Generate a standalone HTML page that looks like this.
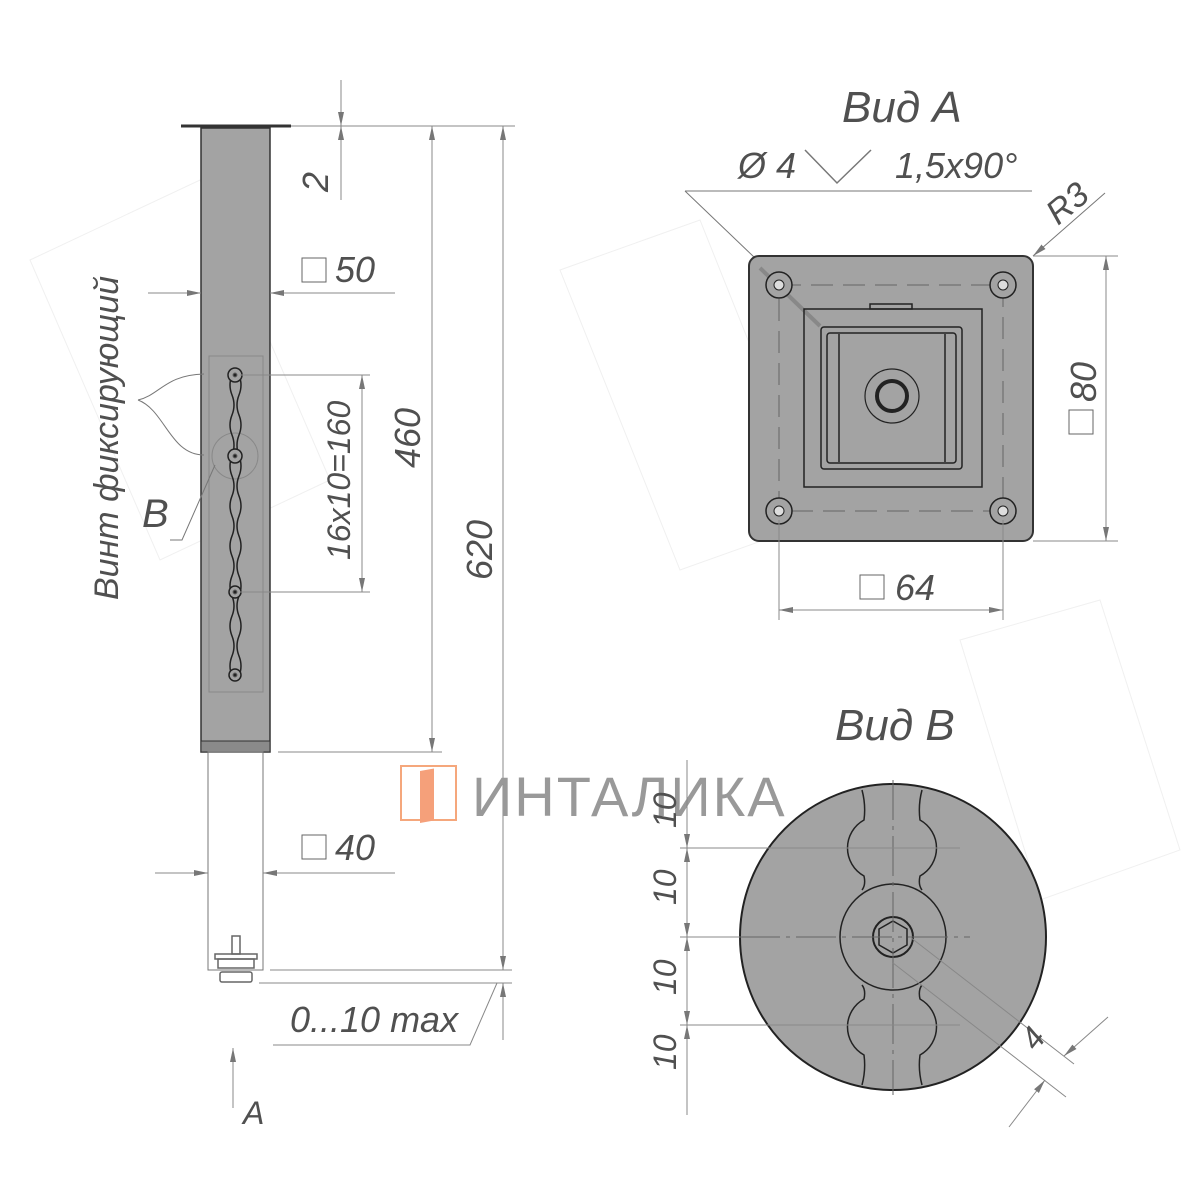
<!DOCTYPE html>
<html><head><meta charset="utf-8"><style>
html,body{margin:0;padding:0;background:#fff}
svg{display:block}
text{font-family:"Liberation Sans","DejaVu Sans",sans-serif;font-style:italic;fill:#505050}
</style></head><body>
<svg width="1200" height="1200" viewBox="0 0 1200 1200" xmlns="http://www.w3.org/2000/svg">
<defs>
<marker id="a" markerWidth="14" markerHeight="8" refX="14" refY="4" orient="auto-start-reverse" markerUnits="userSpaceOnUse"><path d="M0,1 L14,4 L0,7z" fill="#777"/></marker>
</defs>
<g stroke="#f0f0f0" fill="none" stroke-width="1">
<path d="M30,260 L200,180 L330,480 L160,560z M560,270 L700,220 L820,520 L680,570z M960,640 L1100,600 L1180,850 L1040,900z"/>
</g>

<!-- LEFT VIEW -->
<g stroke="#666" stroke-width="1" fill="none">
<rect x="201" y="128" width="69" height="624" fill="#a3a3a3" stroke="#333" stroke-width="1.5"/>
<rect x="201" y="741" width="69" height="11" fill="#8a8a8a" stroke="#333"/>
<line x1="181" y1="126" x2="291" y2="126" stroke="#333" stroke-width="3"/>
<rect x="209" y="356" width="54" height="336" stroke="#888"/>
<circle cx="235" cy="456" r="23" stroke="#888"/>
<path d="M232,375 q-4,10 0,20 q4,10 0,20 q-4,10 0,20 q4,10 0,21 q-4,10 0,20 q4,10 0,20 q-4,10 0,20 q4,10 0,20 q-4,10 0,20 q4,10 0,20 q-4,10 0,20 q4,10 0,20 q-4,10 0,20 q4,10 0,20 q-4,10 0,20" stroke="#222" stroke-width="1.5"/>
<path d="M239,375 q4,10 0,20 q-4,10 0,20 q4,10 0,20 q-4,10 0,21 q4,10 0,20 q-4,10 0,20 q4,10 0,20 q-4,10 0,20 q4,10 0,20 q-4,10 0,20 q4,10 0,20 q-4,10 0,20 q4,10 0,20 q-4,10 0,20 q4,10 0,20" stroke="#222" stroke-width="1.5"/>
<g stroke="#222" stroke-width="1.5" fill="#a3a3a3">
<circle cx="235" cy="375" r="7"/><circle cx="235" cy="456" r="7"/><circle cx="235" cy="592" r="6"/><circle cx="235" cy="675" r="6"/>
</g>
<g fill="#222"><circle cx="235" cy="375" r="2"/><circle cx="235" cy="456" r="2"/><circle cx="235" cy="592" r="2"/><circle cx="235" cy="675" r="2"/></g>
<rect x="208" y="752" width="55" height="218" stroke="#777"/>
<g stroke="#666" stroke-width="1.5"><rect x="232" y="936" width="8" height="18"/><rect x="215" y="954" width="42" height="5"/><rect x="218" y="959" width="36" height="9"/><rect x="220" y="972" width="32" height="10" rx="2"/></g>
<path d="M138,400 C160,395 165,375 204,374 M138,400 C165,410 170,455 204,455 M170,540 L182,540 L215,465" stroke="#777"/>
<line x1="291" y1="126" x2="515" y2="126" stroke="#888"/>
<line x1="341" y1="80" x2="341" y2="126" marker-end="url(#a)" stroke="#888"/>
<line x1="341" y1="200" x2="341" y2="126" marker-end="url(#a)" stroke="#888"/>
<line x1="148" y1="293" x2="201" y2="293" marker-end="url(#a)" stroke="#888"/>
<line x1="395" y1="293" x2="270" y2="293" marker-end="url(#a)" stroke="#888"/>
<line x1="240" y1="375" x2="370" y2="375" stroke="#888"/>
<line x1="240" y1="592" x2="370" y2="592" stroke="#888"/>
<line x1="362" y1="375" x2="362" y2="592" marker-start="url(#a)" marker-end="url(#a)" stroke="#888"/>
<line x1="278" y1="752" x2="442" y2="752" stroke="#888"/>
<line x1="432" y1="126" x2="432" y2="752" marker-start="url(#a)" marker-end="url(#a)" stroke="#888"/>
<line x1="503" y1="126" x2="503" y2="970" marker-start="url(#a)" marker-end="url(#a)" stroke="#888"/>
<line x1="270" y1="970" x2="512" y2="970" stroke="#888"/>
<line x1="259" y1="983" x2="512" y2="983" stroke="#888"/>
<line x1="503" y1="1040" x2="503" y2="983" marker-end="url(#a)" stroke="#888"/>
<path d="M273,1045 L470,1045 L497,983" stroke="#888"/>
<line x1="155" y1="873" x2="208" y2="873" marker-end="url(#a)" stroke="#888"/>
<line x1="395" y1="873" x2="263" y2="873" marker-end="url(#a)" stroke="#888"/>
<line x1="233" y1="1108" x2="233" y2="1048" marker-end="url(#a)" stroke="#888"/>
<rect x="302" y="258" width="24" height="24" stroke="#666"/>
<rect x="302" y="835" width="24" height="24" stroke="#666"/>
</g>
<g font-size="36">
<text x="335" y="282">50</text>
<text x="335" y="860">40</text>
<text transform="translate(328,192) rotate(-90)">2</text>
<text transform="translate(420,468) rotate(-90)">460</text>
<text transform="translate(492,580) rotate(-90)">620</text>
<text transform="translate(350,560) rotate(-90)" font-size="32">16x10=160</text>
<text transform="translate(118,600) rotate(-90)" font-size="34">Винт фиксирующий</text>
<text x="142" y="527" font-size="40">B</text>
<text x="290" y="1032">0...10 max</text>
<text x="243" y="1124" font-size="32">A</text>
</g>

<!-- LOGO -->
<g>
<rect x="401" y="766" width="55" height="54" fill="none" stroke="#f5a77c" stroke-width="2"/>
<rect x="420" y="770" width="14" height="52" fill="#f5a07a" transform="skewY(-10) translate(0,75)"/>
<text x="472" y="816" font-size="56" style="font-style:normal;fill:#999;letter-spacing:2px">ИНТАЛИКА</text>
</g>

<!-- VIEW A -->
<text x="842" y="122" font-size="44">Вид А</text>
<text x="738" y="178" font-size="36">Ø 4</text>
<path d="M805,150 L837,183 L871,150" stroke="#777" fill="none" stroke-width="1.5"/>
<text x="895" y="178" font-size="36">1,5x90°</text>
<g fill="none" stroke="#777">
<path d="M685,191 L1032,191 M685,191 L755,258"/>
<line x1="1105" y1="193" x2="1033" y2="256" marker-end="url(#a)"/>
</g>
<text transform="translate(1058,226) rotate(-40)" font-size="34">R3</text>
<rect x="749" y="256" width="284" height="285" rx="10" fill="#a3a3a3" stroke="#333" stroke-width="2"/>
<path d="M760,268 L820,326" stroke="#888" stroke-width="4"/>
<g fill="none" stroke="#666" stroke-dasharray="22,10">
<rect x="779" y="285" width="224" height="226"/>
</g>
<g stroke="#222" stroke-width="1.5" fill="#a3a3a3">
<circle cx="779" cy="285" r="13"/><circle cx="1003" cy="285" r="13"/><circle cx="779" cy="511" r="13"/><circle cx="1003" cy="511" r="13"/>
</g>
<g stroke="#222" fill="#ddd">
<circle cx="779" cy="285" r="5"/><circle cx="1003" cy="285" r="5"/><circle cx="779" cy="511" r="5"/><circle cx="1003" cy="511" r="5"/>
</g>
<g fill="none" stroke="#222" stroke-width="1.5">
<rect x="804" y="309" width="178" height="178"/>
<rect x="870" y="304" width="42" height="5"/>
<rect x="821" y="327" width="141" height="142" rx="3"/>
<rect x="827" y="333" width="129" height="130" rx="3"/>
<line x1="839" y1="334" x2="839" y2="462"/><line x1="945" y1="334" x2="945" y2="462"/>
<circle cx="892" cy="396" r="27" stroke-width="1.2"/>
<circle cx="892" cy="396" r="15" stroke-width="4"/>
</g>
<g stroke="#888" fill="none">
<line x1="1033" y1="256" x2="1118" y2="256"/><line x1="1033" y1="541" x2="1118" y2="541"/>
<line x1="1106" y1="256" x2="1106" y2="541" marker-start="url(#a)" marker-end="url(#a)"/>
<line x1="779" y1="520" x2="779" y2="620"/><line x1="1003" y1="520" x2="1003" y2="620"/>
<line x1="779" y1="610" x2="1003" y2="610" marker-start="url(#a)" marker-end="url(#a)"/>
<rect x="1069" y="410" width="24" height="24" stroke="#666"/>
<rect x="860" y="575" width="24" height="24" stroke="#666"/>
</g>
<text transform="translate(1096,402) rotate(-90)" font-size="36">80</text>
<text x="895" y="600" font-size="36">64</text>

<!-- VIEW B -->
<text x="835" y="740" font-size="44">Вид B</text>
<circle cx="893" cy="937" r="153" fill="#a3a3a3" stroke="#222" stroke-width="2"/>
<path d="M862,790 Q866,805 864,820 A32,32 0 0 0 864,876 Q866,885 862,890 M922,790 Q918,805 920,820 A32,32 0 0 1 920,876 Q918,885 922,890 M862,1085 Q866,1070 864,1055 A32,32 0 0 1 864,999 Q866,990 862,985 M922,1085 Q918,1070 920,1055 A32,32 0 0 0 920,999 Q918,990 922,985" fill="none" stroke="#222" stroke-width="1.5"/>
<circle cx="893" cy="937" r="53" fill="#a3a3a3" stroke="#222" stroke-width="1.5"/>
<circle cx="893" cy="937" r="20" fill="none" stroke="#222" stroke-width="2"/>
<path d="M893,921 L907,929 L907,945 L893,953 L879,945 L879,929z" fill="none" stroke="#222" stroke-width="1.5"/>
<g stroke="#666" fill="none" stroke-dasharray="40,6,4,6">
<line x1="893" y1="780" x2="893" y2="1095"/>
<line x1="740" y1="937" x2="970" y2="937"/>
</g>
<g stroke="#888" fill="none">
<line x1="680" y1="848" x2="960" y2="848"/>
<line x1="680" y1="1025" x2="960" y2="1025"/>
<line x1="680" y1="937" x2="740" y2="937"/>
<line x1="687" y1="760" x2="687" y2="1115"/>
<line x1="687" y1="800" x2="687" y2="848" marker-end="url(#a)"/>
<line x1="687" y1="895" x2="687" y2="848" marker-end="url(#a)"/>
<line x1="687" y1="890" x2="687" y2="937" marker-end="url(#a)"/>
<line x1="687" y1="980" x2="687" y2="937" marker-end="url(#a)"/>
<line x1="687" y1="980" x2="687" y2="1025" marker-end="url(#a)"/>
<line x1="687" y1="1070" x2="687" y2="1025" marker-end="url(#a)"/>
<path d="M910,937 L1074,1064 M893,963 L1066,1097"/>
<line x1="1108" y1="1017" x2="1064" y2="1056" marker-end="url(#a)"/>
<line x1="1009" y1="1127" x2="1045" y2="1080" marker-end="url(#a)"/>
</g>
<g font-size="32">
<text transform="translate(676,828) rotate(-90)">10</text>
<text transform="translate(676,905) rotate(-90)">10</text>
<text transform="translate(676,995) rotate(-90)">10</text>
<text transform="translate(676,1070) rotate(-90)">10</text>
<text transform="translate(1036,1052) rotate(-52)">4</text>
</g>
</svg>
</body></html>
